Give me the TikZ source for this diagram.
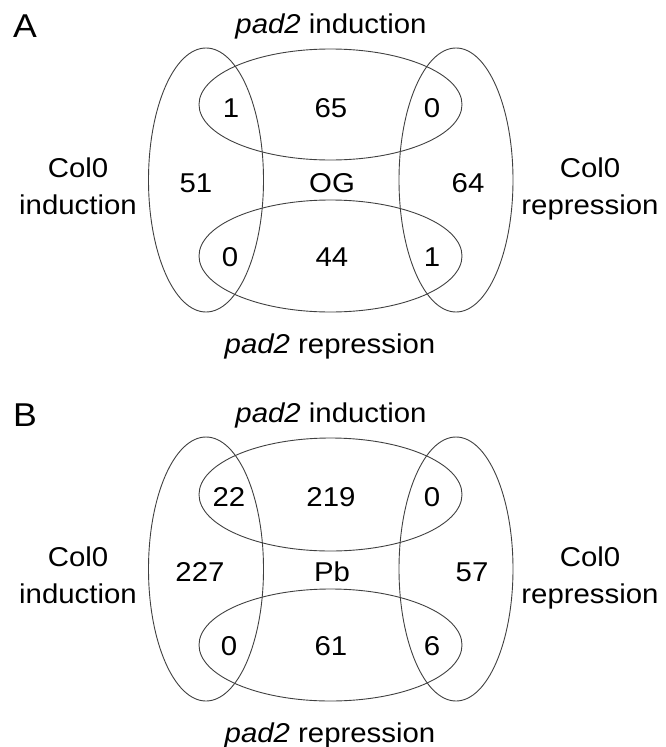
\documentclass[tikz,border=0pt]{standalone}
\usepackage{fontspec}
\setmainfont[FakeStretch=1.08]{Liberation Sans}
\begin{document}
\begin{tikzpicture}[x=1pt,y=-1pt,
  venn/.style={draw=black!75,line width=0.9pt},
  lbl/.style={anchor=base,inner sep=0pt,font=\fontsize{27.2}{32}\selectfont},
  num/.style={anchor=base,inner sep=0pt,font=\fontsize{27.2}{32}\selectfont},
  panel/.style={anchor=base,inner sep=0pt,font=\fontsize{33}{38}\selectfont}]
\useasboundingbox (0,0) rectangle (665,747);
% ---------- Panel A ----------
\begin{scope}
\node[panel] (tA) at (25,37) {A};
\node[lbl] (piA) at (331,33) {\textit{pad2} induction};
\node[lbl] (prA) at (330,353) {\textit{pad2} repression};
\node[lbl] (ciA1) at (78,177) {Col0};
\node[lbl] (ciA2) at (78,214) {induction};
\node[lbl] (crA1) at (590,177) {Col0};
\node[lbl] (crA2) at (590,214) {repression};
\draw[venn] (206,180) ellipse [x radius=57.5,y radius=132];
\draw[venn] (456,180) ellipse [x radius=57,y radius=132];
\draw[venn] (330.5,104.5) ellipse [x radius=131.5,y radius=55.5];
\draw[venn] (330.5,256) ellipse [x radius=131.5,y radius=56];
\node[num] (a11) at (231,117) {1};
\node[num] (a12) at (331,117) {65};
\node[num] (a13) at (432,117) {0};
\node[num] (a21) at (196,192) {51};
\node[num] (a22) at (332,192) {OG};
\node[num] (a23) at (468,192) {64};
\node[num] (a31) at (230,266) {0};
\node[num] (a32) at (332,266) {44};
\node[num] (a33) at (432,266) {1};
\end{scope}
% ---------- Panel B ----------
\begin{scope}[yshift=-389pt]
\node[panel] (tB) at (25,37) {B};
\node[lbl] (piB) at (331,33) {\textit{pad2} induction};
\node[lbl] (prB) at (330,353) {\textit{pad2} repression};
\node[lbl] (ciB1) at (78,177) {Col0};
\node[lbl] (ciB2) at (78,214) {induction};
\node[lbl] (crB1) at (590,177) {Col0};
\node[lbl] (crB2) at (590,214) {repression};
\draw[venn] (206,180) ellipse [x radius=57.5,y radius=132];
\draw[venn] (456,180) ellipse [x radius=57,y radius=132];
\draw[venn] (330.5,105.5) ellipse [x radius=131.5,y radius=56.5];
\draw[venn] (330.5,256) ellipse [x radius=131.5,y radius=56];
\node[num] (b11) at (229,117) {22};
\node[num] (b12) at (331,117) {219};
\node[num] (b13) at (432,117) {0};
\node[num] (b21) at (200,192) {227};
\node[num] (b22) at (332,192) {Pb};
\node[num] (b23) at (472,192) {57};
\node[num] (b31) at (229,266) {0};
\node[num] (b32) at (331,266) {61};
\node[num] (b33) at (432,266) {6};
\end{scope}
\end{tikzpicture}
\end{document}
